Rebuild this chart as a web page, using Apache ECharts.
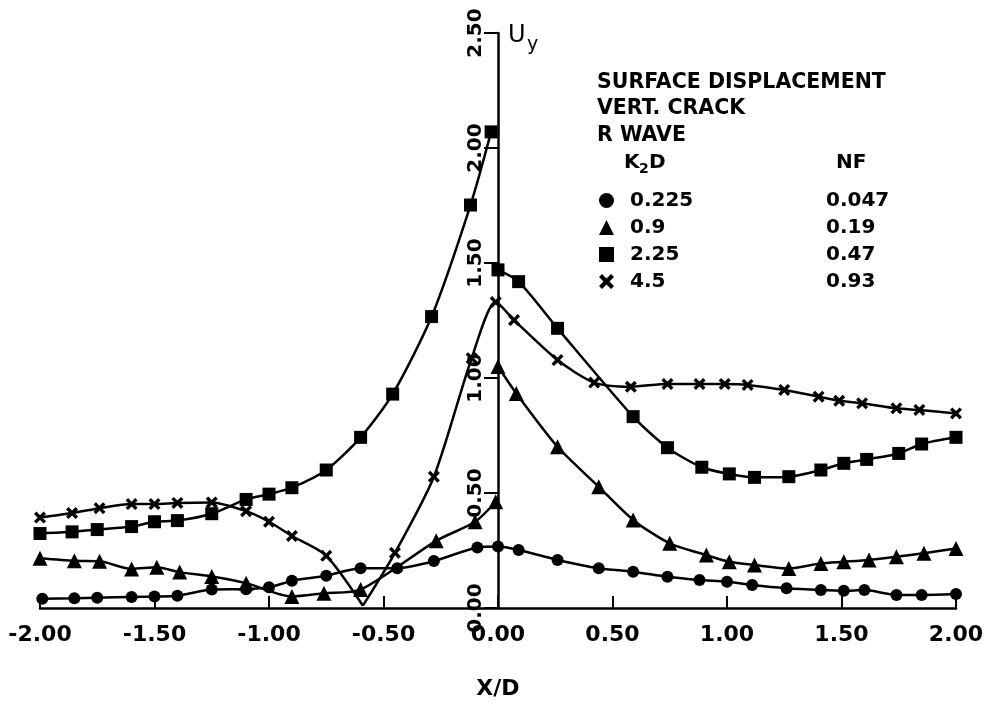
<!DOCTYPE html>
<html>
<head>
<meta charset="utf-8">
<title>Surface displacement</title>
<script src="https://cdn.jsdelivr.net/npm/echarts@6/dist/echarts.min.js"></script>
<style>
  html, body { margin: 0; padding: 0; background: #fff; }
  #chart { width: 988px; height: 710px; }
</style>
</head>
<body>
<div id="chart"></div>
<script>
// K2D values (legend) and NF
var k2dLabels = ['0.225', '0.9', '2.25', '4.5'];
var nfLabels = ['0.047', '0.19', '0.47', '0.93'];

// K2D = 0.225 (circles)
var circleX = [-1.99, -1.85, -1.75, -1.6, -1.5, -1.4, -1.25, -1.1, -1.0, -0.9, -0.75, -0.6, -0.44, -0.28, -0.09, 0.0, 0.09, 0.26, 0.44, 0.59, 0.74, 0.88, 1.0, 1.11, 1.26, 1.41, 1.51, 1.6, 1.74, 1.85, 2.0];
var circleY = [0.04, 0.042, 0.045, 0.048, 0.05, 0.053, 0.08, 0.082, 0.09, 0.118, 0.14, 0.173, 0.173, 0.204, 0.263, 0.267, 0.252, 0.209, 0.173, 0.158, 0.136, 0.122, 0.114, 0.10, 0.086, 0.078, 0.075, 0.078, 0.057, 0.057, 0.061];

// K2D = 0.9 (triangles)
var triX = [-2.0, -1.85, -1.74, -1.6, -1.49, -1.39, -1.25, -1.1, -0.9, -0.76, -0.6, -0.27, -0.1, -0.01, 0.0, 0.08, 0.26, 0.44, 0.59, 0.75, 0.91, 1.01, 1.12, 1.27, 1.41, 1.51, 1.62, 1.74, 1.86, 2.0];
var triY = [0.216, 0.205, 0.203, 0.17, 0.177, 0.156, 0.137, 0.108, 0.05, 0.064, 0.08, 0.292, 0.375, 0.462, 1.05, 0.933, 0.701, 0.527, 0.383, 0.281, 0.23, 0.201, 0.187, 0.172, 0.194, 0.201, 0.209, 0.223, 0.238, 0.259];
var triBreak = [-0.01];   // jump across the crack

// K2D = 2.25 (squares)
var sqX = [-2.0, -1.86, -1.75, -1.6, -1.5, -1.4, -1.25, -1.1, -1.0, -0.9, -0.75, -0.6, -0.46, -0.29, -0.12, -0.03, 0.0, 0.09, 0.26, 0.59, 0.74, 0.89, 1.01, 1.12, 1.27, 1.41, 1.51, 1.61, 1.75, 1.85, 2.0];
var sqY = [0.324, 0.331, 0.341, 0.354, 0.375, 0.38, 0.41, 0.472, 0.495, 0.523, 0.60, 0.742, 0.93, 1.267, 1.752, 2.07, 1.47, 1.419, 1.216, 0.832, 0.697, 0.612, 0.583, 0.568, 0.571, 0.60, 0.629, 0.646, 0.672, 0.713, 0.742];
var sqBreak = [-0.03];

// K2D = 4.5 (crosses); the point at -0.59 is a bare corner
var crossX = [-2.0, -1.86, -1.74, -1.6, -1.5, -1.4, -1.25, -1.1, -1.0, -0.9, -0.75, -0.59, -0.45, -0.28, -0.115, -0.01, 0.07, 0.26, 0.42, 0.58, 0.74, 0.88, 0.99, 1.09, 1.25, 1.4, 1.49, 1.59, 1.74, 1.84, 2.0];
var crossY = [0.393, 0.413, 0.434, 0.452, 0.452, 0.457, 0.459, 0.421, 0.375, 0.313, 0.227, 0.01, 0.24, 0.571, 1.086, 1.33, 1.252, 1.078, 0.98, 0.962, 0.974, 0.974, 0.974, 0.97, 0.948, 0.919, 0.901, 0.89, 0.868, 0.861, 0.846];
var crossCorner = [-0.59];

var crossPath = 'path://M0,2 L2,0 L5,3 L8,0 L10,2 L7,5 L10,8 L8,10 L5,7 L2,10 L0,8 L3,5 Z';
var FONT = 'DejaVu Sans';

// split a curve so the smoothing does not run across jumps / corners
function segments(xs, ys, breaks, corners) {
  var segs = [[]];
  xs.forEach(function (x, i) {
    var corner = corners && corners.indexOf(x) >= 0;
    var pt = corner ? { value: [x, ys[i]], symbol: 'none' } : [x, ys[i]];
    segs[segs.length - 1].push(pt);
    if (corner) segs.push([pt]);
    if (breaks && breaks.indexOf(x) >= 0) segs.push([]);
  });
  return segs;
}

function mkSeries(name, xs, ys, symbol, size, breaks, corners) {
  return segments(xs, ys, breaks, corners).map(function (seg) {
    return {
      name: name,
      type: 'line',
      data: seg,
      smooth: 0.25,
      symbol: symbol,
      symbolSize: size,
      showAllSymbol: true,
      lineStyle: { color: '#000', width: 2.5 },
      itemStyle: { color: '#000' },
      emphasis: { disabled: true },
      z: 3
    };
  });
}

var chart = echarts.init(document.getElementById('chart'));
var option = {
  backgroundColor: '#fff',
  animation: false,
  grid: { left: 40, right: 32, top: 33, bottom: 102, containLabel: false },
  xAxis: {
    type: 'value',
    min: -2, max: 2, interval: 0.5,
    name: 'X/D',
    nameLocation: 'middle',
    nameGap: 70,
    nameTextStyle: { color: '#000', fontSize: 22, fontWeight: 'bold', fontFamily: FONT },
    axisLine: { onZero: false, lineStyle: { color: '#000', width: 2.5 } },
    axisTick: { show: true, inside: true, length: 12, lineStyle: { color: '#000', width: 2 } },
    axisLabel: {
      color: '#000', fontSize: 22, fontWeight: 'bold', fontFamily: FONT, margin: 16,
      formatter: function (v) { return v.toFixed(2); }
    },
    splitLine: { show: false }
  },
  yAxis: {
    type: 'value',
    min: 0, max: 2.5, interval: 0.5,
    position: 'left',
    offset: -458,   // sits on X/D = 0
    axisLine: { show: true, onZero: false, lineStyle: { color: '#000', width: 2.5 } },
    axisTick: { show: true, length: 14, lineStyle: { color: '#000', width: 2 } },
    axisLabel: {
      color: '#000', fontSize: 20, fontWeight: 'bold', fontFamily: FONT, margin: 12, rotate: 90,
      formatter: function (v) { return v.toFixed(2); }
    },
    splitLine: { show: false }
  },
  legend: {
    orient: 'vertical',
    left: 594, top: 182,
    itemWidth: 15, itemHeight: 15, itemGap: 0,
    selectedMode: false,
    data: [
      { name: k2dLabels[0], icon: 'circle' },
      { name: k2dLabels[1], icon: 'triangle' },
      { name: k2dLabels[2], icon: 'rect' },
      { name: k2dLabels[3], icon: crossPath }
    ],
    itemStyle: { color: '#000' },
    formatter: function (name) {
      var i = k2dLabels.indexOf(name);
      return '{a|' + name + '}{b|' + nfLabels[i] + '}';
    },
    textStyle: {
      color: '#000', fontFamily: FONT, fontWeight: 'bold', fontSize: 20, lineHeight: 27,
      rich: {
        a: { width: 196, padding: [0, 0, 0, 11], fontSize: 20, lineHeight: 27, fontWeight: 'bold', fontFamily: FONT, color: '#000' },
        b: { fontSize: 20, lineHeight: 27, fontWeight: 'bold', fontFamily: FONT, color: '#000' }
      }
    }
  },
  graphic: [
    { type: 'text', left: 508, top: 24, style: { text: 'U', fontSize: 24, fontFamily: FONT, fill: '#000' } },
    { type: 'text', left: 527, top: 36, style: { text: 'y', fontSize: 19, fontFamily: FONT, fill: '#000' } },
    { type: 'text', left: 597, top: 72, style: { text: 'SURFACE DISPLACEMENT', fontSize: 20.5, fontWeight: 'bold', fontFamily: FONT, fill: '#000' } },
    { type: 'text', left: 597, top: 98, style: { text: 'VERT. CRACK', fontSize: 20.5, fontWeight: 'bold', fontFamily: FONT, fill: '#000' } },
    { type: 'text', left: 597, top: 125, style: { text: 'R WAVE', fontSize: 20.5, fontWeight: 'bold', fontFamily: FONT, fill: '#000' } },
    { type: 'text', left: 624, top: 153, style: { text: 'K', fontSize: 20, fontWeight: 'bold', fontFamily: FONT, fill: '#000' } },
    { type: 'text', left: 639, top: 162, style: { text: '2', fontSize: 14, fontWeight: 'bold', fontFamily: FONT, fill: '#000' } },
    { type: 'text', left: 649, top: 153, style: { text: 'D', fontSize: 20, fontWeight: 'bold', fontFamily: FONT, fill: '#000' } },
    { type: 'text', left: 836, top: 153, style: { text: 'NF', fontSize: 20, fontWeight: 'bold', fontFamily: FONT, fill: '#000' } }
  ],
  series: [].concat(
    mkSeries(k2dLabels[0], circleX, circleY, 'circle', 12),
    mkSeries(k2dLabels[1], triX, triY, 'triangle', 15, triBreak),
    mkSeries(k2dLabels[2], sqX, sqY, 'rect', 13, sqBreak),
    mkSeries(k2dLabels[3], crossX, crossY, crossPath, 12, null, crossCorner)
  )
};
chart.setOption(option);
</script>
</body>
</html>
